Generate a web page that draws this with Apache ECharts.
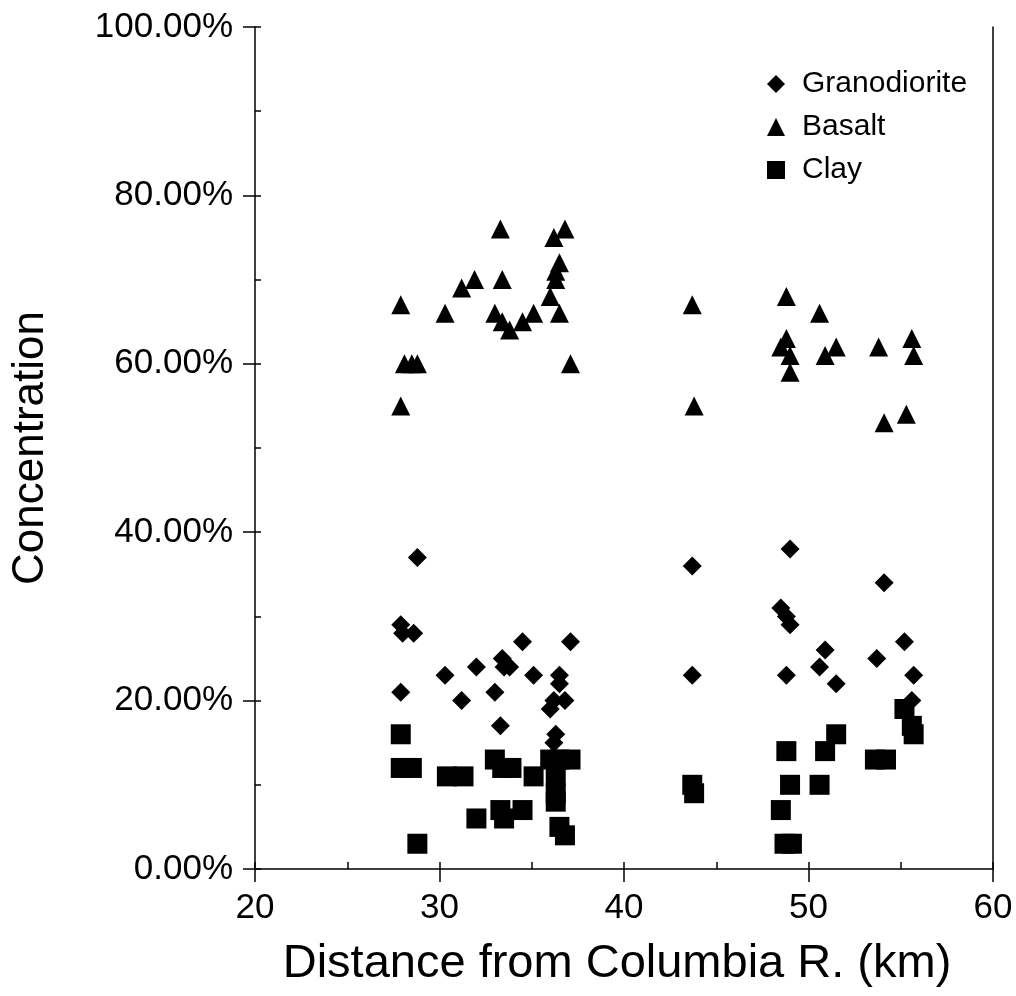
<!DOCTYPE html>
<html>
<head>
<meta charset="utf-8">
<style>
  html, body { margin: 0; padding: 0; background: #fff; }
  #chart { width: 1016px; height: 996px; }
</style>
<script src="https://cdn.jsdelivr.net/npm/echarts@6/dist/echarts.min.js"></script>
</head>
<body>
<div id="chart"></div>
<script>
// Rock-type concentrations by distance from the Columbia River: [km, percent]
const granodiorite = [
  [27.9, 29], [28.0, 28], [28.6, 28], [28.8, 37], [27.9, 21], [30.3, 23],
  [31.2, 20], [32.0, 24], [33.0, 21], [33.3, 17], [33.4, 25], [33.5, 24],
  [33.8, 24], [34.5, 27], [35.1, 23], [36.0, 19], [36.2, 20], [36.3, 16],
  [36.2, 15], [36.5, 23], [36.5, 22], [36.8, 20], [37.1, 27], [43.7, 36],
  [43.7, 23], [48.5, 31], [48.8, 30], [49.0, 29], [49.0, 38], [48.8, 23],
  [50.6, 24], [50.9, 26], [51.5, 22], [53.7, 25], [54.1, 34], [55.2, 27],
  [55.6, 20], [55.7, 23]
];
const basalt = [
  [27.9, 55], [27.9, 67], [28.1, 60], [28.5, 60], [28.8, 60], [30.3, 66],
  [31.2, 69], [31.9, 70], [33.0, 66], [33.3, 76], [33.4, 70], [33.4, 65],
  [33.8, 64], [34.5, 65], [35.1, 66], [36.0, 68], [36.2, 75], [36.3, 70],
  [36.3, 71], [36.5, 72], [36.5, 66], [36.8, 76], [37.1, 60], [43.7, 67],
  [43.8, 55], [48.5, 62], [48.8, 68], [48.8, 63], [49.0, 61], [49.0, 59],
  [50.6, 66], [50.9, 61], [51.5, 62], [53.8, 62], [54.1, 53], [55.3, 54],
  [55.6, 63], [55.7, 61]
];
const clay = [
  [27.9, 16], [27.9, 12], [28.5, 12], [28.8, 3], [30.4, 11], [31.3, 11],
  [32.0, 6], [33.0, 13], [33.3, 7], [33.4, 12], [33.5, 6], [33.9, 12],
  [34.5, 7], [35.1, 11], [36.0, 13], [36.5, 13], [37.1, 13], [36.3, 11],
  [36.3, 9], [36.3, 8], [36.5, 5], [36.8, 4], [43.7, 10], [43.8, 9],
  [48.5, 7], [48.7, 3], [49.1, 3], [48.8, 14], [49.0, 10], [50.6, 10],
  [50.9, 14], [51.5, 16], [53.6, 13], [54.2, 13], [55.2, 19], [55.6, 17],
  [55.7, 16]
];

const FONT = '"Liberation Sans", Arial, Helvetica, sans-serif';
const INK = '#000';
const axisLine = { show: true, onZero: false, lineStyle: { color: INK, width: 1.5 } };
const markStyle = { color: INK, opacity: 1 };

const chart = echarts.init(document.getElementById('chart'), null, { renderer: 'canvas' });

chart.setOption({
  backgroundColor: '#fff',
  animation: false,
  textStyle: { fontFamily: FONT, color: INK },
  grid: { left: 255, right: 23, top: 27, bottom: 127, containLabel: false },
  legend: {
    orient: 'vertical',
    left: 762,
    top: 64,
    itemWidth: 18,
    itemHeight: 18,
    itemGap: 13,
    itemStyle: { color: INK, opacity: 1 },
    textStyle: { fontFamily: FONT, fontSize: 30, color: INK, padding: [0, 0, 0, 12] },
    data: [
      { name: 'Granodiorite', icon: 'diamond' },
      { name: 'Basalt', icon: 'triangle' },
      { name: 'Clay', icon: 'rect' }
    ]
  },
  xAxis: [
    {
      type: 'value', min: 20, max: 60, interval: 10,
      position: 'bottom',
      name: 'Distance from Columbia R. (km)',
      nameLocation: 'middle', nameGap: 72,
      nameTextStyle: { fontFamily: FONT, fontSize: 47, color: INK, padding: [0, 14, 0, 0] },
      axisLine: axisLine,
      axisTick: { show: true, inside: false, length: 13, lineStyle: { color: INK, width: 1.5 } },
      axisLabel: { fontFamily: FONT, fontSize: 35, color: INK, margin: 22 },
      splitLine: { show: false }
    },
    {
      // inward tick marks on the same baseline
      type: 'value', min: 20, max: 60, interval: 10,
      position: 'bottom',
      axisLine: { show: false },
      axisTick: { show: true, inside: true, length: 7, lineStyle: { color: INK, width: 1.5 } },
      minorTick: { show: true, splitNumber: 2, length: 7, lineStyle: { color: INK, width: 1.5 } },
      axisLabel: { show: false },
      splitLine: { show: false }
    }
  ],
  yAxis: [
    {
      type: 'value', min: 0, max: 100, interval: 20,
      position: 'left',
      name: 'Concentration',
      nameLocation: 'middle', nameGap: 202,
      nameTextStyle: { fontFamily: FONT, fontSize: 44, color: INK },
      axisLine: axisLine,
      axisTick: { show: true, inside: false, length: 12, lineStyle: { color: INK, width: 1.5 } },
      axisLabel: {
        fontFamily: FONT, fontSize: 35, color: INK, margin: 22,
        formatter: v => v.toFixed(2) + '%'
      },
      splitLine: { show: false }
    },
    {
      // inward tick marks on the left edge
      type: 'value', min: 0, max: 100, interval: 20,
      position: 'left',
      axisLine: { show: false },
      axisTick: { show: true, inside: true, length: 6, lineStyle: { color: INK, width: 1.5 } },
      minorTick: { show: true, splitNumber: 2, length: 6, lineStyle: { color: INK, width: 1.5 } },
      axisLabel: { show: false },
      splitLine: { show: false }
    },
    {
      // right frame edge
      type: 'value', min: 0, max: 100, interval: 20,
      position: 'right',
      axisLine: axisLine,
      axisTick: { show: false },
      axisLabel: { show: false },
      splitLine: { show: false }
    }
  ],
  series: [
    {
      name: 'Granodiorite', type: 'scatter', data: granodiorite,
      symbol: 'diamond', symbolSize: 19,
      itemStyle: markStyle, emphasis: { disabled: true }
    },
    {
      name: 'Basalt', type: 'scatter', data: basalt,
      symbol: 'triangle', symbolSize: 19,
      itemStyle: markStyle, emphasis: { disabled: true }
    },
    {
      name: 'Clay', type: 'scatter', data: clay,
      symbol: 'rect', symbolSize: 20,
      itemStyle: markStyle, emphasis: { disabled: true }
    }
  ]
});
</script>
</body>
</html>
